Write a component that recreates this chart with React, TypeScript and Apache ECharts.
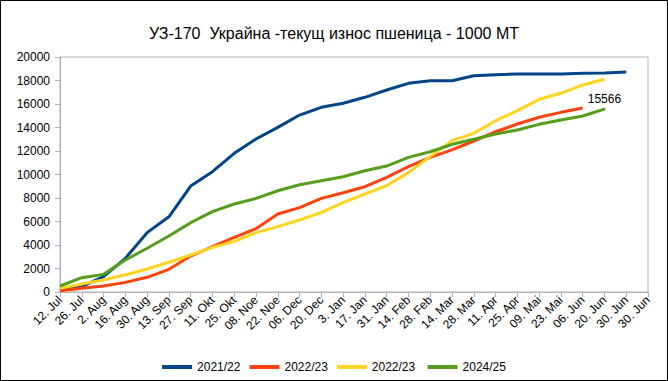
import React, { useEffect, useRef } from "react";
import * as echarts from "echarts";

const categories = [
  "12. Jul", "26. Jul", "2. Aug", "16. Aug", "30. Aug", "13. Sep", "27. Sep",
  "11. Okt", "25. Okt", "08. Noe", "22. Noe", "06. Dec", "20. Dec", "3. Jan",
  "17. Jan", "31. Jan", "14. Feb", "28. Feb", "14. Mar", "28. Mar", "11. Apr",
  "25. Apr", "09. Mai", "23. Mai", "06. Jun", "20. Jun", "30. Jun", "30. Jun",
];

const s2122 = [150, 450, 1300, 2870, 5050, 6400, 9020, 10240, 11800, 13020, 14010, 15060, 15720, 16060, 16570, 17190, 17760, 17980, 17980, 18410, 18490, 18550, 18550, 18550, 18610, 18640, 18720];
const s2223a = [110, 310, 510, 820, 1250, 1930, 3060, 3860, 4650, 5390, 6640, 7180, 7970, 8450, 8960, 9760, 10670, 11460, 12090, 12850, 13640, 14300, 14870, 15290, 15660];
const s2223b = [310, 680, 1020, 1470, 1960, 2530, 3150, 3800, 4310, 5050, 5560, 6130, 6780, 7600, 8340, 9050, 10160, 11520, 12880, 13500, 14580, 15430, 16400, 16910, 17620, 18100];
const s2425 = [510, 1220, 1500, 2720, 3720, 4770, 5900, 6840, 7490, 7970, 8620, 9130, 9470, 9810, 10320, 10720, 11460, 11940, 12570, 13000, 13450, 13790, 14270, 14640, 14980, 15566];

const seriesNames = ["2021/22", "2022/23", "2022/23 ", "2024/25"];
const colors = ["#004586", "#ff420e", "#ffd320", "#579d1c"];

export default function App() {
  const ref = useRef<HTMLDivElement>(null);
  useEffect(() => {
    document.body.style.margin = "0";
    if (!ref.current) return;
    const chart = echarts.init(ref.current, null, { renderer: "svg" });
    const font = "'Liberation Sans', Arial, sans-serif";
    const last = s2425.length - 1;
    const mk = (name: string, data: number[], color: string, labelLast: boolean) => ({
      name,
      type: "line",
      data,
      showSymbol: labelLast,
      symbol: "circle",
      symbolSize: (_v: any, p: any) => (labelLast && p.dataIndex === last ? 2 : 0),
      lineStyle: { width: 3, color },
      itemStyle: { color },
      label: {
        show: labelLast,
        position: "top",
        distance: 3,
        color: "#000",
        fontSize: 12,
        fontFamily: font,
        formatter: (p: any) => (p.dataIndex === last ? String(p.value) : ""),
      },
    });
    chart.setOption({
      animation: false,
      textStyle: { fontFamily: font },
      graphic: [
        {
          type: "rect",
          shape: { x: 0.5, y: 0.5, width: 667, height: 380 },
          style: { fill: "none", stroke: "#000", lineWidth: 1 },
          silent: true,
        },
      ],
      title: {
        text: "УЗ-170  Украйна -текущ износ пшеница - 1000 МТ",
        left: "center",
        top: 20,
        textStyle: { fontSize: 16, fontWeight: "normal", color: "#000", fontFamily: font },
      },
      legend: {
        bottom: 3,
        left: "center",
        icon: "rect",
        itemWidth: 30,
        itemHeight: 4,
        itemGap: 9,
        textStyle: { fontSize: 12, color: "#000", fontFamily: font },
        data: seriesNames,
      },
      grid: {
        left: 60,
        right: 20,
        top: 57,
        bottom: 89,
        show: true,
        borderColor: "#b3b3b3",
        borderWidth: 1,
        containLabel: false,
      },
      xAxis: {
        type: "category",
        data: categories,
        boundaryGap: false,
        axisLine: { lineStyle: { color: "#b3b3b3" } },
        axisTick: { show: true, length: 5, lineStyle: { color: "#b3b3b3" }, interval: 0 },
        axisLabel: { rotate: 45, interval: 0, fontSize: 12, color: "#000", margin: 6, fontFamily: font },
        splitLine: { show: false },
      },
      yAxis: {
        type: "value",
        min: 0,
        max: 20000,
        interval: 2000,
        axisLine: { show: true, lineStyle: { color: "#b3b3b3" } },
        axisTick: { show: true, length: 5, lineStyle: { color: "#b3b3b3" } },
        axisLabel: {
          fontSize: 12,
          color: "#000",
          margin: 10,
          fontFamily: font,
          formatter: (v: number) => String(v),
        },
        splitLine: { show: false },
      },
      series: [
        mk(seriesNames[0], s2122, colors[0], false),
        mk(seriesNames[1], s2223a, colors[1], false),
        mk(seriesNames[2], s2223b, colors[2], false),
        mk(seriesNames[3], s2425, colors[3], true),
      ],
    });
    return () => chart.dispose();
  }, []);
  return <div ref={ref} style={{ position: "absolute", left: 0, top: 0, width: 668, height: 381 }} />;
}
